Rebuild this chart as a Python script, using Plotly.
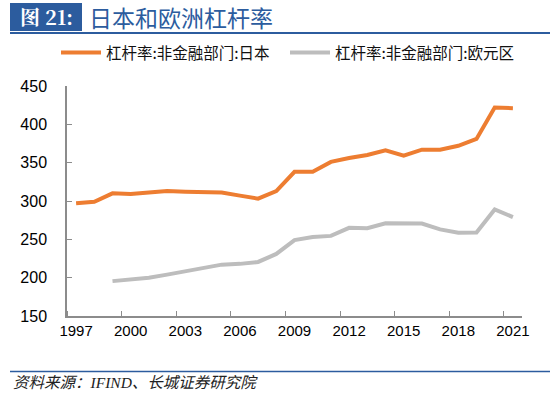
import plotly.graph_objects as go

years = list(range(1997, 2022))
japan = [297, 299, 310, 309, 311, 313, 312, 311.5, 311, 307, 303, 313, 338, 338, 351, 356, 360, 366, 359, 367, 367, 372, 381, 422, 421]
euro = [None, None, 195.5, 197.5, 200, 204, 208, 212, 217, 218, 220.5, 231, 249, 253, 254.5, 265, 264.5, 271, 271, 270.5, 263, 258.5, 259, 289, 279]
tick_years = [1997, 2000, 2003, 2006, 2009, 2012, 2015, 2018, 2021]
y_ticks = [150, 200, 250, 300, 350, 400, 450]

name_jp = "杠杆率:非金融部门:日本"
name_eu = "杠杆率:非金融部门:欧元区"
title_tag = "图 21:"
title_text = "日本和欧洲杠杆率"
source_text = "资料来源：IFIND、长城证券研究院"

W, H = 550, 394
L, R, T, B = 67, 28, 86, 78
pw, ph = W - L - R, H - T - B

def px(x):
    return (x - L) / pw

def py(y):
    return (H - B - y) / ph

cjk = "Noto Sans CJK SC"
blue = "#2C5C9E"

fig = go.Figure()
fig.add_trace(go.Scatter(x=years, y=japan, mode="lines", name=name_jp,
                         line=dict(color="#ED7D31", width=4), legend="legend"))
fig.add_trace(go.Scatter(x=years, y=euro, mode="lines", name=name_eu,
                         line=dict(color="#BDBDBD", width=4), legend="legend2"))

leg_common = dict(orientation="h", yanchor="middle", y=py(53), xanchor="left",
                  font=dict(family=cjk, size=15.5, color="#111111"),
                  bgcolor="rgba(0,0,0,0)", itemwidth=40,
                  borderwidth=0)

fig.update_layout(
    width=W, height=H,
    margin=dict(l=L, r=R, t=T, b=B, autoexpand=False),
    paper_bgcolor="white", plot_bgcolor="white",
    font=dict(family="Liberation Sans, Arial", color="#000000"),
    showlegend=True,
    legend=dict(x=px(56), **leg_common),
    legend2=dict(x=px(285), **leg_common),
    xaxis=dict(range=[1996.5, 2021.5], tickmode="array", tickvals=tick_years,
               ticktext=[str(y) for y in tick_years], ticks="",
               showline=True, linecolor="#8C8C8C", linewidth=1.5,
               showgrid=False, zeroline=False,
               tickfont=dict(size=15, family="Liberation Sans, Arial"),
               minor=dict(tick0=1999.5, dtick=3, ticks="inside", ticklen=5,
                          tickcolor="#8C8C8C", tickwidth=1, showgrid=False)),
    yaxis=dict(range=[150, 450], tickmode="array", tickvals=y_ticks,
               ticks="inside", ticklen=5, tickcolor="#8C8C8C",
               showline=True, linecolor="#8C8C8C", linewidth=1.5,
               showgrid=False, zeroline=False, ticklabelstandoff=15,
               tickfont=dict(size=16, family="Liberation Sans, Arial")),
)

shapes = [
    dict(type="rect", xref="paper", yref="paper",
         x0=px(10), x1=px(82), y0=py(31), y1=py(3),
         fillcolor=blue, line=dict(width=0), layer="above"),
    dict(type="line", xref="paper", yref="paper",
         x0=px(10), x1=px(550), y0=py(33), y1=py(33),
         line=dict(color=blue, width=2)),
    dict(type="line", xref="paper", yref="paper",
         x0=px(10), x1=px(550), y0=py(371.5), y1=py(371.5),
         line=dict(color=blue, width=1.5)),
]
fig.update_layout(shapes=shapes)

fig.add_annotation(x=px(46), y=py(17), xref="paper", yref="paper",
                   text="<b>" + title_tag + "</b>", showarrow=False,
                   xanchor="center", yanchor="middle",
                   font=dict(family="Noto Serif CJK SC, Liberation Serif, " + cjk, size=20, color="white"))
fig.add_annotation(x=px(87), y=py(17), xref="paper", yref="paper",
                   text=title_text, showarrow=False,
                   xanchor="left", yanchor="middle",
                   font=dict(family=cjk, size=23, color=blue))
fig.add_annotation(x=px(11), y=py(383), xref="paper", yref="paper",
                   text="<i>" + source_text + "</i>", showarrow=False,
                   xanchor="left", yanchor="middle",
                   font=dict(family="Liberation Serif, " + cjk, size=15.5, color="#222222"))

fig.write_html("out.html", config={"displayModeBar": False},
               post_script="document.body.style.margin='0px';")
